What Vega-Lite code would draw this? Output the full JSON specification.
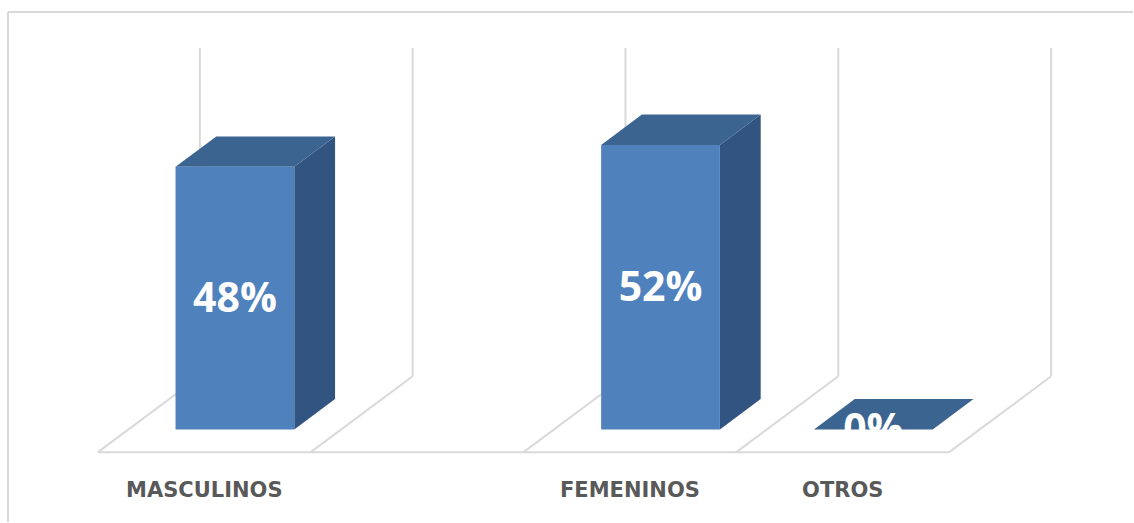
{
  "$schema": "https://vega.github.io/schema/vega-lite/v6.json",
  "width": 1134,
  "height": 523,
  "autosize": {"type": "fit", "contains": "padding"},
  "padding": 0,
  "background": "white",
  "config": {"view": {"stroke": null}},
  "data": {
    "values": [
      {"categoria": "MASCULINOS", "valor": 48},
      {"categoria": "", "valor": null},
      {"categoria": "FEMENINOS", "valor": 52},
      {"categoria": "OTROS", "valor": 0}
    ]
  },
  "transform": [
    {"window": [{"op": "row_number", "as": "rn"}]},
    {"calculate": "datum.rn - 1", "as": "slot"}
  ],
  "layer": [
    {
      "transform": [
        {"aggregate": [{"op": "min", "field": "slot", "as": "s0"}, {"op": "max", "field": "slot", "as": "s1"}]},
        {"calculate": "datum.s1 + 1", "as": "s1e"},
        {"calculate": "0", "as": "base"}
      ],
      "mark": {"type": "rule", "color": "#D9D9D9", "strokeWidth": 2},
      "encoding": {
        "x": {"field": "s0", "type": "quantitative", "scale": {"domain": [-0.4601, 4.8638], "nice": false, "zero": false}, "axis": null},
        "x2": {"field": "s1e"},
        "y": {"field": "base", "type": "quantitative", "scale": {"domain": [-12.77, 82.66], "nice": false, "zero": false}, "axis": null}
      }
    },
    {
      "transform": [
        {"calculate": "[datum.slot, datum.slot + 1]", "as": "bs"},
        {"flatten": ["bs"], "as": ["b"]},
        {"aggregate": [{"op": "count", "as": "n"}], "groupby": ["b"]},
        {"calculate": "datum.b + 0.479", "as": "bb"},
        {"calculate": "0", "as": "z"},
        {"calculate": "13.87", "as": "dy"},
        {"calculate": "60 + 13.87", "as": "walltop"}
      ],
      "layer": [
        {
          "mark": {"type": "rule", "color": "#D9D9D9", "strokeWidth": 2},
          "encoding": {
            "x": {"field": "b", "type": "quantitative", "scale": {"domain": [-0.4601, 4.8638], "nice": false, "zero": false}, "axis": null},
            "x2": {"field": "bb"},
            "y": {"field": "z", "type": "quantitative", "scale": {"domain": [-12.77, 82.66], "nice": false, "zero": false}, "axis": null},
            "y2": {"field": "dy"}
          }
        },
        {
          "mark": {"type": "rule", "color": "#D9D9D9", "strokeWidth": 2},
          "encoding": {
            "x": {"field": "bb", "type": "quantitative", "scale": {"domain": [-0.4601, 4.8638], "nice": false, "zero": false}, "axis": null},
            "y": {"field": "dy", "type": "quantitative", "scale": {"domain": [-12.77, 82.66], "nice": false, "zero": false}, "axis": null},
            "y2": {"field": "walltop"}
          }
        }
      ]
    },
    {
      "transform": [
        {"filter": "isValid(datum.valor)"},
        {"calculate": "[0.3, 0.7]", "as": "ds"},
        {"flatten": ["ds"], "as": ["d"]},
        {"calculate": "datum.slot + 0.221 + 0.558 + datum.d * 0.479", "as": "sx"},
        {"calculate": "datum.d * 13.87", "as": "sy0"},
        {"calculate": "datum.valor + datum.d * 13.87", "as": "sy1"}
      ],
      "mark": {"type": "area", "orient": "vertical", "color": "#325480", "interpolate": "linear"},
      "encoding": {
        "x": {"field": "sx", "type": "quantitative", "scale": {"domain": [-0.4601, 4.8638], "nice": false, "zero": false}, "axis": null},
        "y": {"field": "sy1", "type": "quantitative", "scale": {"domain": [-12.77, 82.66], "nice": false, "zero": false}, "axis": null},
        "y2": {"field": "sy0"},
        "detail": {"field": "categoria", "type": "nominal"}
      }
    },
    {
      "transform": [
        {"filter": "isValid(datum.valor)"},
        {"calculate": "[0.3, 0.7]", "as": "ds"},
        {"flatten": ["ds"], "as": ["d"]},
        {"calculate": "datum.slot + 0.221 + datum.d * 0.479", "as": "tx0"},
        {"calculate": "datum.tx0 + 0.558", "as": "tx1"},
        {"calculate": "datum.valor + datum.d * 13.87", "as": "ty"}
      ],
      "mark": {"type": "area", "orient": "horizontal", "color": "#3C6491", "interpolate": "linear"},
      "encoding": {
        "y": {"field": "ty", "type": "quantitative", "scale": {"domain": [-12.77, 82.66], "nice": false, "zero": false}, "axis": null},
        "x": {"field": "tx0", "type": "quantitative", "scale": {"domain": [-0.4601, 4.8638], "nice": false, "zero": false}, "axis": null},
        "x2": {"field": "tx1"},
        "detail": {"field": "categoria", "type": "nominal"}
      }
    },
    {
      "transform": [
        {"filter": "isValid(datum.valor)"},
        {"calculate": "datum.slot + 0.221 + 0.3 * 0.479", "as": "fx0"},
        {"calculate": "datum.fx0 + 0.558", "as": "fx1"},
        {"calculate": "0.3 * 13.87", "as": "fy0"},
        {"calculate": "datum.valor + 0.3 * 13.87", "as": "fy1"}
      ],
      "mark": {"type": "rect", "color": "#4F81BD"},
      "encoding": {
        "x": {"field": "fx0", "type": "quantitative", "scale": {"domain": [-0.4601, 4.8638], "nice": false, "zero": false}, "axis": null},
        "x2": {"field": "fx1"},
        "y": {"field": "fy0", "type": "quantitative", "scale": {"domain": [-12.77, 82.66], "nice": false, "zero": false}, "axis": null},
        "y2": {"field": "fy1"}
      }
    },
    {
      "transform": [
        {"filter": "isValid(datum.valor)"},
        {"calculate": "datum.slot + 0.5 + 0.3 * 0.479", "as": "lx"},
        {"calculate": "datum.valor / 2 + 0.3 * 13.87", "as": "ly"},
        {"calculate": "datum.valor + '%'", "as": "etiqueta"}
      ],
      "mark": {"type": "text", "color": "white", "font": "Open Sans", "fontWeight": "bold", "fontSize": 41, "baseline": "middle", "align": "center", "dy": 2},
      "encoding": {
        "x": {"field": "lx", "type": "quantitative", "scale": {"domain": [-0.4601, 4.8638], "nice": false, "zero": false}, "axis": null},
        "y": {"field": "ly", "type": "quantitative", "scale": {"domain": [-12.77, 82.66], "nice": false, "zero": false}, "axis": null},
        "text": {"field": "etiqueta"}
      }
    },
    {
      "transform": [
        {"filter": "datum.categoria != ''"},
        {"calculate": "datum.slot + 0.5", "as": "cx"},
        {"calculate": "-7.12", "as": "cy"}
      ],
      "mark": {"type": "text", "color": "#595959", "font": "DejaVu Sans", "fontWeight": "bold", "fontSize": 21, "baseline": "middle", "align": "center"},
      "encoding": {
        "x": {"field": "cx", "type": "quantitative", "scale": {"domain": [-0.4601, 4.8638], "nice": false, "zero": false}, "axis": null},
        "y": {"field": "cy", "type": "quantitative", "scale": {"domain": [-12.77, 82.66], "nice": false, "zero": false}, "axis": null},
        "text": {"field": "categoria"}
      }
    },
    {
      "mark": {"type": "rule", "color": "#D9D9D9", "strokeWidth": 2},
      "encoding": {
        "x": {"datum": -0.4225, "type": "quantitative", "scale": {"domain": [-0.4601, 4.8638], "nice": false, "zero": false}, "axis": null},
        "y": {"datum": 80.47, "type": "quantitative", "scale": {"domain": [-12.77, 82.66], "nice": false, "zero": false}, "axis": null},
        "y2": {"datum": -12.77}
      }
    },
    {
      "mark": {"type": "rule", "color": "#D9D9D9", "strokeWidth": 2},
      "encoding": {
        "x": {"datum": -0.4225, "type": "quantitative", "scale": {"domain": [-0.4601, 4.8638], "nice": false, "zero": false}, "axis": null},
        "x2": {"datum": 4.8638},
        "y": {"datum": 80.47, "type": "quantitative", "scale": {"domain": [-12.77, 82.66], "nice": false, "zero": false}, "axis": null}
      }
    }
  ]
}
